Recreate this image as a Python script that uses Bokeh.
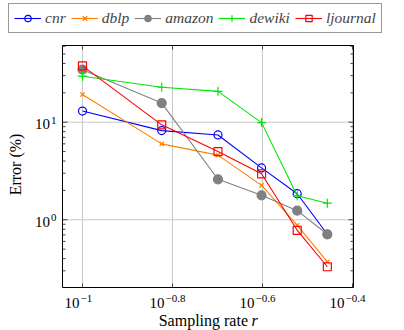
import math
from bokeh.plotting import figure
from bokeh.models import Range1d, Legend, LegendItem, ColumnDataSource
from bokeh.core.properties import value
from bokeh.embed import file_html
from bokeh.resources import INLINE

# ---- data ----
rates = [0.1, 0.15, 0.2, 0.25, 0.3, 0.35]
cnr = [13.0, 8.2, 7.4, 3.4, 1.85, 0.71]
dblp = [19.2, 6.0, 4.6, 2.25, 0.88, 0.37]
amazon = [34.5, 15.7, 2.6, 1.78, 1.24, 0.71]
dewiki = [29.6, 22.8, 20.7, 9.9, 1.76, 1.48]
ljournal = [37.8, 9.4, 5.0, 2.96, 0.78, 0.33]

series_names = ["cnr", "dblp", "amazon", "dewiki", "ljournal"]

x_tick_exps = [-1, -0.8, -0.6, -0.4]
x_tick_texts = ["\u22121", "\u22120.8", "\u22120.6", "\u22120.4"]
y_tick_exps = [0, 1]
y_tick_texts = ["0", "1"]

x_label = "Sampling rate"
x_label_var = "r"
y_label = "Error (%)"

# axis limits (log10)
x_lim = (-1.0444, -0.3978)
y_lim = (-0.694, 1.786)

# ---- styling / layout ----
SERIF = "Liberation Serif"
colors = ["#0000ff", "#ff8000", "#808080", "#00e600", "#ff0000"]
markers = ["circle", "x", "circle", "cross", "square"]
fills = [None, None, "#808080", None, None]
sizes = [8, 6, 9, 9, 8]

W, H = 404, 330
BOX_L, BOX_R, BOX_T, BOX_B = 62, 353, 45, 287

# extend the ranges so that the axis box sits at the wanted pixels
xppd = (BOX_R - BOX_L) / (x_lim[1] - x_lim[0])
yppd = (BOX_B - BOX_T) / (y_lim[1] - y_lim[0])
xr = (x_lim[0] - BOX_L / xppd, x_lim[1] + (W - BOX_R) / xppd)
yr = (y_lim[0] - (H - BOX_B) / yppd, y_lim[1] + BOX_T / yppd)

xlo, xhi = 10 ** x_lim[0], 10 ** x_lim[1]
ylo, yhi = 10 ** y_lim[0], 10 ** y_lim[1]

p = figure(width=W, height=H, x_axis_type="log", y_axis_type="log",
           x_range=Range1d(10 ** xr[0], 10 ** xr[1]),
           y_range=Range1d(10 ** yr[0], 10 ** yr[1]),
           output_backend="svg", toolbar_location=None, min_border=0)
p.xaxis.visible = False
p.yaxis.visible = False
p.xgrid.visible = False
p.ygrid.visible = False
p.outline_line_color = None
p.background_fill_color = "white"
p.border_fill_color = "white"

xt = [10 ** e for e in x_tick_exps]
yt = [10 ** e for e in y_tick_exps]
y_minor = [k * 10 ** d for d in (-1, 0, 1) for k in range(2, 10)]
y_minor = [v for v in y_minor if ylo < v < yhi]

GRID = "#c8c8c8"
TICK = "#444444"
# grid lines
p.segment(x0=xt, y0=[ylo] * len(xt), x1=xt, y1=[yhi] * len(xt), line_color=GRID, line_width=1)
p.segment(x0=[xlo] * len(yt), y0=yt, x1=[xhi] * len(yt), y1=yt, line_color=GRID, line_width=1)

# ticks (inward)
p.ray(x=xt, y=[ylo] * len(xt), length=4, length_units="screen", angle=math.pi / 2,
      line_color=TICK, line_width=1)
p.ray(x=xt, y=[yhi] * len(xt), length=4, length_units="screen", angle=-math.pi / 2,
      line_color=TICK, line_width=1)
p.ray(x=[xlo] * len(yt), y=yt, length=5, length_units="screen", angle=0,
      line_color=TICK, line_width=1)
p.ray(x=[xhi] * len(yt), y=yt, length=5, length_units="screen", angle=math.pi,
      line_color=TICK, line_width=1)
p.ray(x=[xlo] * len(y_minor), y=y_minor, length=3, length_units="screen", angle=0,
      line_color=TICK, line_width=1)
p.ray(x=[xhi] * len(y_minor), y=y_minor, length=3, length_units="screen", angle=math.pi,
      line_color=TICK, line_width=1)

# ---- series ----
all_values = [cnr, dblp, amazon, dewiki, ljournal]
items = []
for name, vals, c, m, f, s in zip(series_names, all_values, colors, markers, fills, sizes):
    src = ColumnDataSource(dict(x=rates, y=vals))
    r1 = p.line("x", "y", source=src, line_color=c, line_width=1.1)
    r2 = p.scatter("x", "y", source=src, marker=m, size=s, line_color=c,
                   fill_color=f, line_width=1.2)
    items.append(LegendItem(label=name, renderers=[r1, r2]))

# axis box
p.quad(left=[xlo], right=[xhi], bottom=[ylo], top=[yhi], fill_color=None,
       line_color="black", line_width=1)

legend = Legend(items=items, orientation="horizontal", location=(8, H - 33),
                glyph_width=27, glyph_height=16, label_height=16,
                label_standoff=4, spacing=5, padding=5, margin=0,
                border_line_color="#333333", border_line_width=1,
                label_text_font=SERIF, label_text_font_style="italic",
                label_text_font_size="15.5px", label_text_baseline="middle",
                background_fill_alpha=1)
p.add_layout(legend, "center")

# ---- tick labels (base + superscript exponent) ----
txt = dict(text_font=value(SERIF), text_color="black", text_baseline="middle")
xdx = [2 - 2.5 * len(t) for t in x_tick_texts]
p.text(x=xt, y=[ylo] * len(xt), text=["10"] * len(xt), x_offset=xdx, y_offset=15,
       text_align="right", text_font_size=value("15px"), **txt)
p.text(x=xt, y=[ylo] * len(xt), text=x_tick_texts, x_offset=[d + 1 for d in xdx],
       y_offset=11, text_align="left", text_font_size=value("11px"), **txt)
p.text(x=[xlo] * len(yt), y=yt, text=["10"] * len(yt), x_offset=-12.5, y_offset=2,
       text_align="right", text_font_size=value("15px"), **txt)
p.text(x=[xlo] * len(yt), y=yt, text=y_tick_texts, x_offset=-11.5, y_offset=-2,
       text_align="left", text_font_size=value("11px"), **txt)

# ---- axis titles ----
xc = math.sqrt(xlo * xhi)
yc = math.sqrt(ylo * yhi)
p.text(x=[xc], y=[ylo], text=[x_label], x_offset=40, y_offset=33, text_align="right",
       text_font_size=value("16px"), **txt)
p.text(x=[xc], y=[ylo], text=[x_label_var], x_offset=43.5, y_offset=33, text_align="left",
       text_font_size=value("16px"), text_font_style="italic", **txt)
p.text(x=[xlo], y=[yc], text=[y_label], x_offset=-47, y_offset=-2, angle=math.pi / 2,
       text_align="center", text_font_size=value("16px"), **txt)

open("out.html", "w").write(file_html(p, INLINE))
